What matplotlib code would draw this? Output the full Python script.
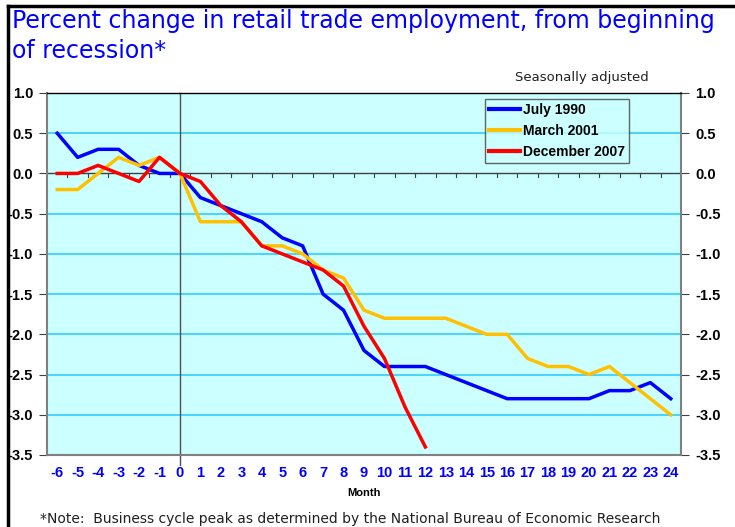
import matplotlib.pyplot as plt
from matplotlib.lines import Line2D

# Месяцы от начала рецессии
months = list(range(-6, 25))
july_1990 = [0.5, 0.2, 0.3, 0.3, 0.1, 0.0, 0.0, -0.3, -0.4, -0.5, -0.6, -0.8, -0.9, -1.5,
             -1.7, -2.2, -2.4, -2.4, -2.4, -2.5, -2.6, -2.7, -2.8, -2.8, -2.8, -2.8, -2.8,
             -2.7, -2.7, -2.6, -2.8]
march_2001 = [-0.2, -0.2, 0.0, 0.2, 0.1, 0.2, 0.0, -0.6, -0.6, -0.6, -0.9, -0.9, -1.0, -1.2,
              -1.3, -1.7, -1.8, -1.8, -1.8, -1.8, -1.9, -2.0, -2.0, -2.3, -2.4, -2.4, -2.5,
              -2.4, -2.6, -2.8, -3.0]
dec_2007 = [0.0, 0.0, 0.1, 0.0, -0.1, 0.2, 0.0, -0.1, -0.4, -0.6, -0.9, -1.0, -1.1, -1.2,
            -1.4, -1.9, -2.3, -2.9, -3.4]
y_ticks = [1.0, 0.5, 0.0, -0.5, -1.0, -1.5, -2.0, -2.5, -3.0, -3.5]

series = [('July 1990', july_1990, '#0000FF'),
          ('March 2001', march_2001, '#FFC000'),
          ('December 2007', dec_2007, '#FF0000')]

ARIAL = 'Liberation Sans'

fig = plt.figure(figsize=(7.35, 5.27), dpi=100)
ax = fig.add_axes([47 / 735, 1 - 455 / 527, 634 / 735, 362 / 527])
ax.set_facecolor('#CCFFFF')

ax.set_xlim(-6.5, 24.5)
ax.set_ylim(-3.5, 1.0)

# сетка
for y in y_ticks:
    if y not in (0.0, 1.0, -3.5):
        ax.axhline(y, color='#33CCFF', lw=1.2, zorder=1)
ax.axhline(0, color='#404040', lw=1.0, zorder=2)
ax.plot([0, 0], [-3.62, 1.0], color='#505050', lw=1.0, zorder=2, clip_on=False)

# засечки на нулевой линии
for m in months:
    ax.plot([m + 0.5, m + 0.5], [0, -0.05], color='#404040', lw=0.8, zorder=2)

for name, vals, color in series:
    ax.plot(months[:len(vals)], vals, color=color, lw=2.5, label=name, zorder=3)

ax.set_xticks(months)
ax.set_xticklabels([str(m) for m in months], color='#0000FF', fontweight='bold',
                   fontsize=10.5, family=ARIAL)
ax.tick_params(axis='x', length=0, pad=8)

ax.set_yticks(y_ticks)
ax.set_yticklabels([f'{v:.1f}' for v in y_ticks], fontweight='bold', fontsize=10.5,
                   family=ARIAL)
ax.tick_params(axis='y', left=True, right=True, labelleft=True, labelright=True,
               direction='out', length=6, color='#404040', pad=4)
for t in ax.yaxis.get_major_ticks():
    t.label2.set_family(ARIAL)
    t.label2.set_fontweight('bold')
    t.label2.set_fontsize(10.5)

for side in ['left', 'right', 'bottom']:
    ax.spines[side].set_color('#808080')
    ax.spines[side].set_linewidth(1.5)
ax.spines['top'].set_color('black')
ax.spines['top'].set_linewidth(1.0)

ax.text(0.5, -0.09, 'Month', transform=ax.transAxes, ha='center', va='top',
        fontsize=8, fontweight='bold', family=ARIAL)

leg = ax.legend(loc='upper left', bbox_to_anchor=(438 / 634, 0.983),
                prop={'weight': 'bold', 'size': 10, 'family': ARIAL}, frameon=True,
                fancybox=False, handlelength=2.2, handletextpad=0.25, borderpad=0.3,
                labelspacing=0.5, borderaxespad=0)
leg.get_frame().set_edgecolor('#404040')
leg.get_frame().set_facecolor('#CCFFFF')
leg.get_frame().set_linewidth(1.0)
for h in leg.get_lines():
    h.set_linewidth(3)

fig.text(12 / 735, 1 - 9 / 527,
         'Percent change in retail trade employment, from beginning\nof recession*',
         color='#0000FF', fontsize=17, va='top', ha='left', linespacing=1.3)
fig.text(649 / 735, 1 - 78 / 527, 'Seasonally adjusted', fontsize=9.5, ha='right',
         va='center', color='#202020')
fig.text(40 / 735, 1 - 519 / 527,
         '*Note:  Business cycle peak as determined by the National Bureau of Economic Research',
         fontsize=10, ha='left', va='center', color='#202020')

# рамка слайда
fig.add_artist(Line2D([8 / 735, 8 / 735], [0, 1 - 6 / 527], color='black', lw=2.5,
                      transform=fig.transFigure))
fig.add_artist(Line2D([8 / 735, 1], [1 - 6 / 527, 1 - 6 / 527], color='black', lw=2.5,
                      transform=fig.transFigure))

fig.savefig('out.png', dpi=100)
